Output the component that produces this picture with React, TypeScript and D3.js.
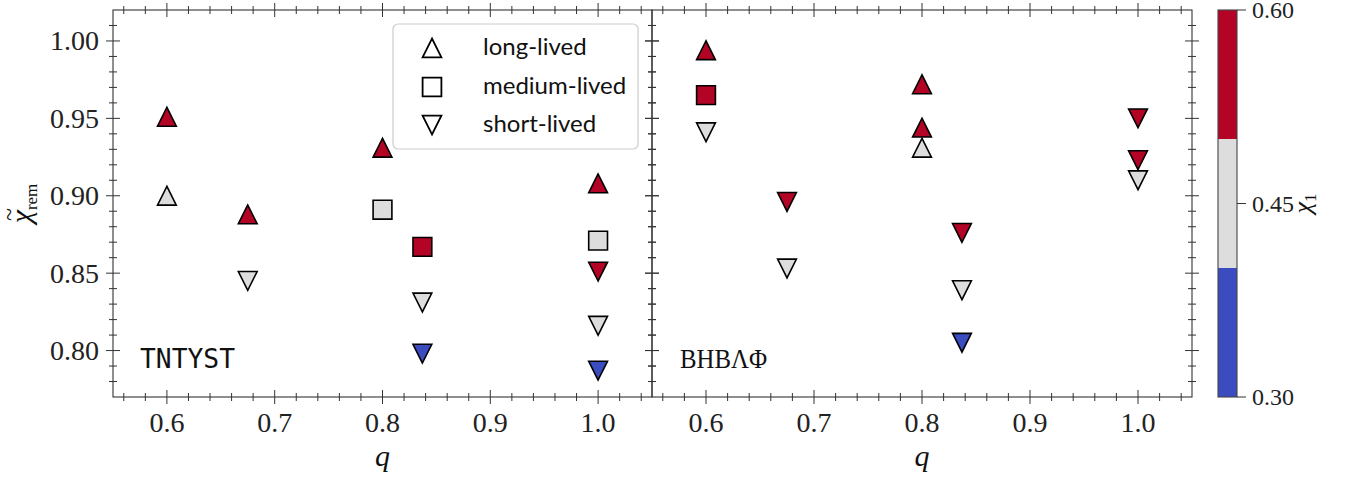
import React from "react";
import * as d3 from "d3";

// ---------- data ----------
const leftQ = [0.6, 0.6, 0.675, 0.675, 0.8, 0.8, 0.837, 0.837, 0.837, 1.0, 1.0, 1.0, 1.0, 1.0];
const leftChiRem = [0.951, 0.9, 0.888, 0.845, 0.931, 0.891, 0.867, 0.831, 0.798, 0.908, 0.871, 0.851, 0.816, 0.787];
const leftChi1 = [0.55, 0.45, 0.55, 0.45, 0.55, 0.45, 0.55, 0.45, 0.35, 0.55, 0.45, 0.55, 0.45, 0.35];
const leftLife = ["long", "long", "long", "short", "long", "medium", "medium", "short", "short", "long", "medium", "short", "short", "short"];

const rightQ = [0.6, 0.6, 0.6, 0.675, 0.675, 0.8, 0.8, 0.8, 0.837, 0.837, 0.837, 1.0, 1.0, 1.0];
const rightChiRem = [0.994, 0.965, 0.941, 0.896, 0.853, 0.931, 0.972, 0.944, 0.876, 0.839, 0.805, 0.91, 0.95, 0.923];
const rightChi1 = [0.55, 0.55, 0.45, 0.55, 0.45, 0.45, 0.55, 0.55, 0.55, 0.45, 0.35, 0.45, 0.55, 0.55];
const rightLife = ["long", "medium", "short", "short", "short", "long", "long", "long", "short", "short", "short", "short", "short", "short"];

const xMajor = [0.6, 0.7, 0.8, 0.9, 1.0];
const yMajor = [0.8, 0.85, 0.9, 0.95, 1.0];
const cbTicks = [0.3, 0.45, 0.6];
const cbColors = ["#3b4cc0", "#dddddd", "#b40426"];
const legendLabels = ["long-lived", "medium-lived", "short-lived"];
const legendKinds = ["long", "medium", "short"];

// ---------- layout ----------
const W = 1351, H = 479;
const top = 10, bottom = 397;
const panels = [
  { x0: 113, x1: 652, q: leftQ, v: leftChiRem, c: leftChi1, k: leftLife, label: "TNTYST" },
  { x0: 652, x1: 1192, q: rightQ, v: rightChiRem, c: rightChi1, k: rightLife, label: "BHBΛΦ" },
];
const y = d3.scaleLinear().domain([0.77, 1.02]).range([bottom, top]);
const color = d3.scaleQuantize<string>().domain([0.3, 0.6]).range(cbColors);
const cbX0 = 1218, cbX1 = 1237;
const cbY = d3.scaleLinear().domain([0.3, 0.6]).range([bottom, top]);

const serif = "Liberation Serif";
const mono = "DejaVu Sans Mono";
const sans = "Lato";
const axisColor = "#333";

function markerPath(kind: string, h: number) {
  const p = d3.path();
  if (kind === "long") {
    p.moveTo(0, -h); p.lineTo(-h, h); p.lineTo(h, h); p.closePath();
  } else if (kind === "short") {
    p.moveTo(0, h); p.lineTo(-h, -h); p.lineTo(h, -h); p.closePath();
  } else {
    p.rect(-h, -h, 2 * h, 2 * h);
  }
  return p.toString();
}

function range(a: number, b: number, step: number) {
  const out: number[] = [];
  const n = Math.round((b - a) / step);
  for (let i = 0; i <= n; i++) out.push(+(a + i * step).toFixed(4));
  return out;
}
const xMinor = range(0.56, 1.04, 0.02).filter((t) => !xMajor.some((m) => Math.abs(m - t) < 1e-6));
const yMinor = range(0.78, 1.01, 0.01).filter((t) => !yMajor.some((m) => Math.abs(m - t) < 1e-6));

function Panel({ p, idx }: { p: typeof panels[0]; idx: number }) {
  const x = d3.scaleLinear().domain([0.55, 1.05]).range([p.x0, p.x1]);
  const maj = 7, mnr = 4;
  return (
    <g>
      <rect x={p.x0} y={top} width={p.x1 - p.x0} height={bottom - top} fill="none" stroke={axisColor} strokeWidth={1.1} />
      {xMajor.map((t) => (
        <g key={"xM" + t}>
          <line x1={x(t)} x2={x(t)} y1={bottom - maj} y2={bottom + maj} stroke={axisColor} />
          <line x1={x(t)} x2={x(t)} y1={top - maj} y2={top + maj} stroke={axisColor} />
          <text x={x(t)} y={432} textAnchor="middle" style={{ fontFamily: serif, fontSize: 28 }} fill="#222">
            {t.toFixed(1)}
          </text>
        </g>
      ))}
      {xMinor.map((t) => (
        <g key={"xm" + t}>
          <line x1={x(t)} x2={x(t)} y1={bottom - mnr} y2={bottom + mnr} stroke={axisColor} />
          <line x1={x(t)} x2={x(t)} y1={top - mnr} y2={top + mnr} stroke={axisColor} />
        </g>
      ))}
      {yMajor.map((t) => (
        <g key={"yM" + t}>
          <line x1={p.x0 - maj} x2={p.x0 + maj} y1={y(t)} y2={y(t)} stroke={axisColor} />
          <line x1={p.x1 - maj} x2={p.x1 + maj} y1={y(t)} y2={y(t)} stroke={axisColor} />
          {idx === 0 && (
            <text x={p.x0 - 14} y={y(t)} dy="0.34em" textAnchor="end" style={{ fontFamily: serif, fontSize: 28 }} fill="#222">
              {t.toFixed(2)}
            </text>
          )}
        </g>
      ))}
      {yMinor.map((t) => (
        <g key={"ym" + t}>
          <line x1={p.x0 - mnr} x2={p.x0 + mnr} y1={y(t)} y2={y(t)} stroke={axisColor} />
          <line x1={p.x1 - mnr} x2={p.x1 + mnr} y1={y(t)} y2={y(t)} stroke={axisColor} />
        </g>
      ))}
      <text x={(p.x0 + p.x1) / 2} y={466} textAnchor="middle" style={{ fontFamily: serif, fontSize: 30, fontStyle: "italic" }} fill="#111">
        q
      </text>
      {p.q.map((q, i) => (
        <path
          key={"pt" + i}
          d={markerPath(p.k[i], 9.4)}
          transform={`translate(${x(q)},${y(p.v[i])})`}
          fill={color(p.c[i])}
          stroke="#000"
          strokeWidth={1.6}
          strokeLinejoin="miter"
        />
      ))}
      {idx === 0 ? (
        <text x={140} y={368} style={{ fontFamily: mono, fontSize: 26 }} textLength={95} lengthAdjust="spacingAndGlyphs" fill="#111">
          {p.label}
        </text>
      ) : (
        <text x={680} y={368} style={{ fontFamily: serif, fontSize: 28 }} textLength={87} lengthAdjust="spacingAndGlyphs" fill="#111">
          {p.label}
        </text>
      )}
    </g>
  );
}

export default function App() {
  const legendY = [48, 87, 125];
  return (
    <svg width={W} height={H} style={{ position: "absolute", left: 0, top: 0, background: "#fff" }}>
      <rect x={0} y={0} width={W} height={H} fill="#fff" />
      {panels.map((p, i) => (
        <Panel key={i} p={p} idx={i} />
      ))}
      {/* y label */}
      <g transform={`translate(31,${(top + bottom) / 2}) rotate(-90)`}>
        <text textAnchor="middle" style={{ fontFamily: serif, fontSize: 30 }} fill="#111">
          <tspan style={{ fontStyle: "italic" }}>χ</tspan>
          <tspan style={{ fontSize: 17 }} dy={6}>rem</tspan>
        </text>
        <text x={-11} y={-14} textAnchor="middle" style={{ fontFamily: serif, fontSize: 24 }} fill="#111">~</text>
      </g>
      {/* legend */}
      <rect x={393} y={24} width={245} height={125} rx={5} fill="#fff" fillOpacity={0.85} stroke="#cccccc" strokeWidth={1.2} />
      {legendKinds.map((k, i) => (
        <g key={"lg" + k}>
          <path d={markerPath(k, 9.4)} transform={`translate(432,${legendY[i]})`} fill="none" stroke="#000" strokeWidth={1.8} />
          <text x={483} y={legendY[i] + 7} style={{ fontFamily: sans, fontSize: 24 }} fill="#111">
            {legendLabels[i]}
          </text>
        </g>
      ))}
      {/* colorbar */}
      {cbColors.map((c, i) => {
        const [a, b] = color.invertExtent(c);
        return <rect key={"cb" + i} x={cbX0} y={cbY(b)} width={cbX1 - cbX0} height={cbY(a) - cbY(b)} fill={c} />;
      })}
      <rect x={cbX0} y={top} width={cbX1 - cbX0} height={bottom - top} fill="none" stroke="#444" strokeWidth={1.1} />
      {cbTicks.map((t) => (
        <g key={"cbt" + t}>
          <line x1={cbX1} x2={cbX1 + 9} y1={cbY(t)} y2={cbY(t)} stroke="#333" />
          <text x={cbX1 + 15} y={cbY(t)} dy="0.34em" style={{ fontFamily: serif, fontSize: 24 }} fill="#222">
            {t.toFixed(2)}
          </text>
        </g>
      ))}
      <text transform={`translate(1311,${(top + bottom) / 2}) rotate(-90)`} textAnchor="middle" style={{ fontFamily: serif, fontSize: 26 }} fill="#111">
        <tspan style={{ fontStyle: "italic" }}>χ</tspan>
        <tspan style={{ fontSize: 17 }} dy={5}>1</tspan>
      </text>
    </svg>
  );
}
